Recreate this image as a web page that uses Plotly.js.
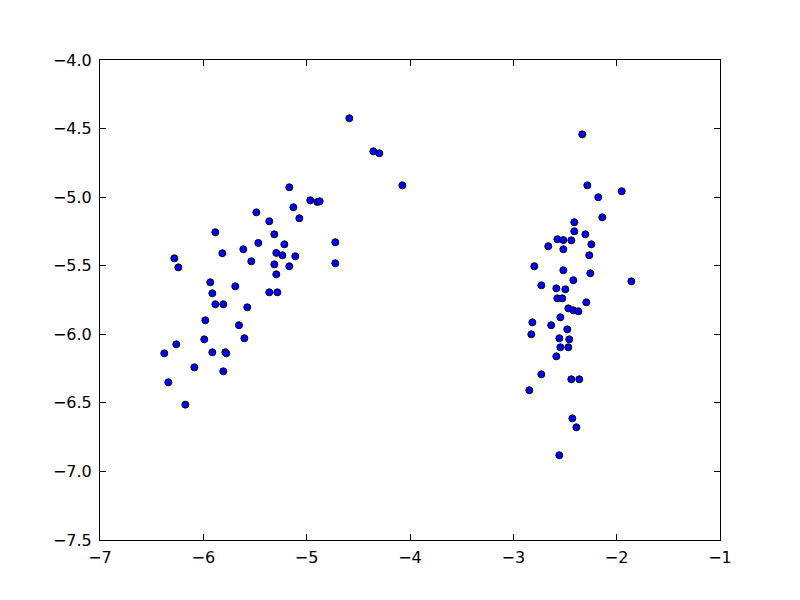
<!DOCTYPE html>
<html>
<head>
<meta charset="utf-8">
<script src="https://cdn.plot.ly/plotly-3.0.1.min.js"></script>
<style>html,body{margin:0;padding:0;background:#fff;}</style>
</head>
<body>
<div id="chart" style="width:800px;height:600px;"></div>
<script>
// Left cluster
const leftX = [-5.168,-4.965,-4.897,-4.874,-5.129,-5.487,-5.362,-5.071,-5.884,-5.313,-4.723,-5.468,-5.216,-5.613,-5.816,-5.294,-5.236,-5.110,-6.281,-5.536,-4.723,-6.242,-5.313,-5.168,-5.294,-5.933,-5.691,-5.913,-5.362,-5.284,-5.884,-5.807,-5.575,-5.981,-5.655,-5.991,-5.603,-6.262,-6.378,-5.913,-5.787,-5.778,-6.087,-5.807,-6.339,-6.174];
const leftY = [-4.928,-5.023,-5.035,-5.030,-5.074,-5.111,-5.176,-5.154,-5.256,-5.271,-5.329,-5.334,-5.344,-5.380,-5.409,-5.407,-5.424,-5.431,-5.446,-5.468,-5.482,-5.512,-5.490,-5.504,-5.563,-5.621,-5.650,-5.701,-5.694,-5.694,-5.781,-5.781,-5.803,-5.898,-5.934,-6.037,-6.029,-6.073,-6.139,-6.131,-6.131,-6.139,-6.241,-6.270,-6.350,-6.513];
// Middle points
const midX = [-4.587,-4.355,-4.297,-4.074];
const midY = [-4.425,-4.666,-4.680,-4.914];
// Right cluster
const rightX = [-2.333,-2.284,-1.951,-2.178,-2.139,-2.410,-2.410,-2.303,-2.574,-2.516,-2.439,-2.662,-2.516,-2.245,-2.265,-2.797,-2.516,-2.255,-2.420,-1.858,-2.729,-2.584,-2.497,-2.574,-2.526,-2.294,-2.468,-2.420,-2.371,-2.545,-2.816,-2.634,-2.478,-2.826,-2.555,-2.459,-2.545,-2.468,-2.584,-2.729,-2.439,-2.362,-2.845,-2.429,-2.390,-2.555];
const rightY = [-4.542,-4.914,-4.957,-5.001,-5.147,-5.183,-5.249,-5.271,-5.307,-5.313,-5.315,-5.358,-5.380,-5.344,-5.424,-5.504,-5.533,-5.555,-5.606,-5.614,-5.643,-5.665,-5.672,-5.738,-5.738,-5.767,-5.811,-5.825,-5.832,-5.876,-5.913,-5.934,-5.964,-6.000,-6.029,-6.037,-6.095,-6.095,-6.161,-6.292,-6.328,-6.328,-6.408,-6.613,-6.678,-6.882];

const xs = leftX.concat(midX, rightX);
const ys = leftY.concat(midY, rightY);

const xTicks = [-7,-6,-5,-4,-3,-2,-1];
const yTicks = [-4.0,-4.5,-5.0,-5.5,-6.0,-6.5,-7.0,-7.5];

const trace = {
  x: xs, y: ys, type: 'scatter', mode: 'markers',
  marker: {color: '#0000ff', size: 7, line: {color: '#000000', width: 1}},
  hoverinfo: 'none'
};

const axisCommon = {
  showline: true, linecolor: '#000', linewidth: 1, mirror: 'ticks',
  ticks: 'inside', ticklen: 6, tickwidth: 1, tickcolor: '#000',
  showgrid: false, zeroline: false,
  tickfont: {family: 'DejaVu Sans', size: 16, color: '#000'}
};

const layout = {
  width: 800, height: 600,
  margin: {l: 100, r: 80, t: 60, b: 60, pad: 0},
  paper_bgcolor: '#fff', plot_bgcolor: '#fff',
  showlegend: false,
  xaxis: Object.assign({}, axisCommon, {range: [-7, -1], tickvals: xTicks, ticktext: xTicks.map(v => String(v).replace('-', '\u2212')), ticklabelstandoff: 3}),
  yaxis: Object.assign({}, axisCommon, {range: [-7.5, -4], tickvals: yTicks, ticktext: yTicks.map(v => v.toFixed(1).replace('-', '\u2212')), ticklabelstandoff: 4})
};

Plotly.newPlot('chart', [trace], layout, {displayModeBar: false, staticPlot: true});
</script>
</body>
</html>
